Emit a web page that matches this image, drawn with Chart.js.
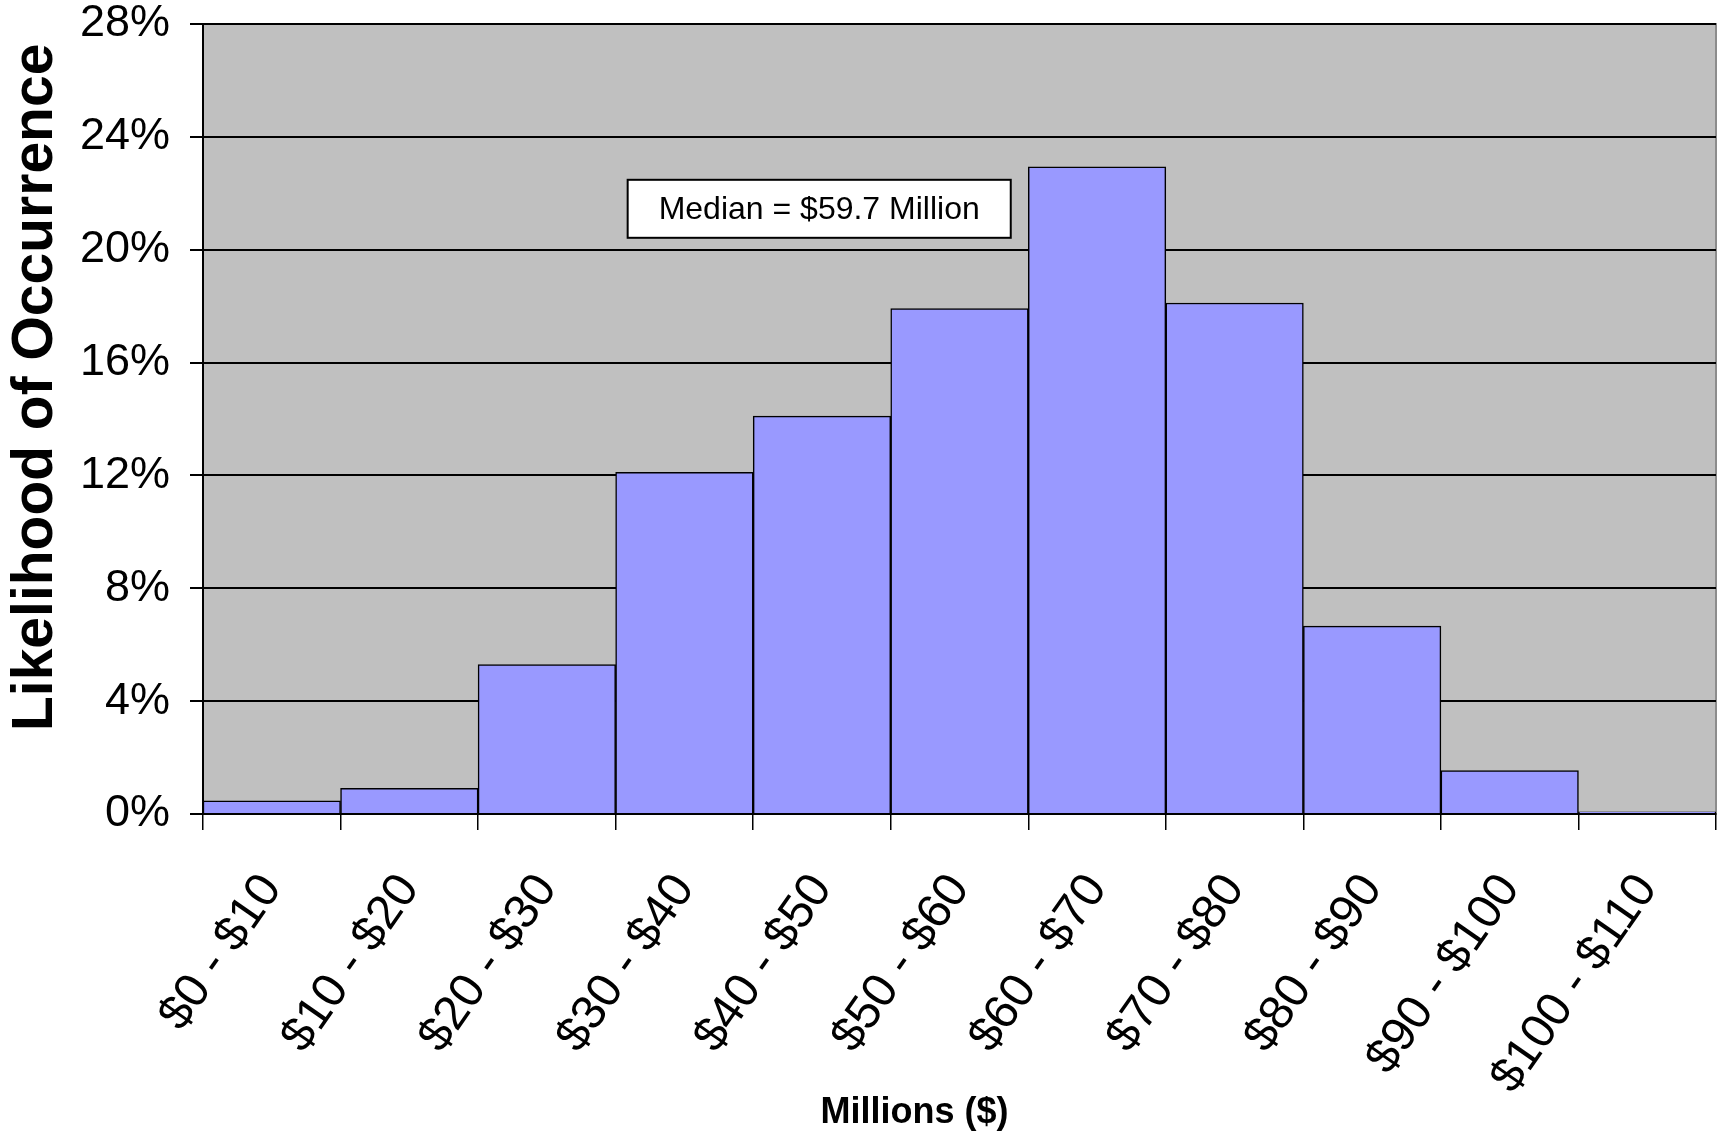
<!DOCTYPE html>
<html>
<head>
<meta charset="utf-8">
<script src="https://cdn.jsdelivr.net/npm/chart.js@4"></script>
<style>
  html, body { margin: 0; padding: 0; background: #fff; }
  #wrap { width: 1723px; height: 1138px; }
</style>
</head>
<body>
<div id="wrap"><canvas id="histChart" width="1723" height="1138"></canvas></div>
<script>
// Rangos en millones y probabilidad (%)
const rangos = ['$0 - $10', '$10 - $20', '$20 - $30', '$30 - $40', '$40 - $50', '$50 - $60',
                '$60 - $70', '$70 - $80', '$80 - $90', '$90 - $100', '$100 - $110'];
const probabilidad = [0.47, 0.91, 5.30, 12.11, 14.10, 17.91, 22.94, 18.11, 6.66, 1.54, 0.08];
const yTicks = [0, 4, 8, 12, 16, 20, 24, 28];

// Nota de la mediana
const medianaTexto = 'Median = $59.7 Million';
const medianaCategoria = 3.98;
const medianaValor = 21.45;

// espacios para correr los títulos de los ejes
const nb = n => '\u00a0'.repeat(n);

// fondo gris del área de trazado
const fondoPlot = {
    id: 'fondoPlot',
    beforeDraw(chart) {
        const { ctx, chartArea: a } = chart;
        ctx.save();
        ctx.fillStyle = '#c0c0c0';
        ctx.fillRect(a.left, a.top, a.right - a.left, a.bottom - a.top);
        ctx.strokeStyle = '#8c8c8c';
        ctx.lineWidth = 2;
        ctx.strokeRect(a.left, a.top, a.right - a.left, a.bottom - a.top);
        ctx.restore();
    }
};

// caja con la mediana
const notaMediana = {
    id: 'notaMediana',
    afterDatasetsDraw(chart) {
        const { ctx, scales } = chart;
        const cx = scales.x.getPixelForValue(medianaCategoria);
        const cy = scales.y.getPixelForValue(medianaValor);
        ctx.save();
        ctx.font = '32px "Liberation Sans", Arial, sans-serif';
        const w = ctx.measureText(medianaTexto).width + 62;
        const h = 58;
        ctx.fillStyle = '#fff';
        ctx.fillRect(cx - w / 2, cy - h / 2, w, h);
        ctx.strokeStyle = '#000';
        ctx.lineWidth = 2;
        ctx.strokeRect(cx - w / 2, cy - h / 2, w, h);
        ctx.fillStyle = '#000';
        ctx.textAlign = 'center';
        ctx.textBaseline = 'middle';
        ctx.fillText(medianaTexto, cx, cy + 1);
        ctx.restore();
    }
};

new Chart(document.getElementById('histChart'), {
    type: 'bar',
    data: {
        labels: rangos,
        datasets: [{
            label: 'Likelihood of Occurrence',
            data: probabilidad,
            backgroundColor: '#9999ff',
            borderColor: '#000',
            borderWidth: 1.5,
            categoryPercentage: 1,
            barPercentage: 1
        }]
    },
    options: {
        responsive: false,
        animation: false,
        layout: { padding: { top: 24, right: 7, left: 0, bottom: 0 } },
        plugins: {
            legend: { display: false },
            tooltip: { enabled: false }
        },
        scales: {
            x: {
                offset: true,
                afterFit(scale) {
                    scale.height = 324;
                    scale.paddingLeft = 0;
                    scale.paddingRight = 0;
                },
                grid: {
                    offset: true,
                    drawOnChartArea: false,
                    color: '#000',
                    lineWidth: 1.5,
                    tickLength: 16
                },
                border: { color: '#000', width: 2 },
                ticks: {
                    color: '#000',
                    autoSkip: false,
                    minRotation: 55,
                    maxRotation: 55,
                    padding: 34,
                    font: { family: '"Liberation Sans", Arial, sans-serif', size: 48 }
                },
                title: {
                    display: true,
                    text: 'Millions ($)' + nb(9),
                    color: '#000',
                    padding: { top: 0, bottom: 3 },
                    font: { family: '"Liberation Sans", Arial, sans-serif', size: 36, weight: 'bold' }
                }
            },
            y: {
                min: 0,
                max: 28,
                afterFit(scale) {
                    scale.width = 203;
                    scale.paddingTop = 0;
                    scale.paddingBottom = 0;
                },
                afterBuildTicks(scale) {
                    scale.ticks = yTicks.map(v => ({ value: v }));
                },
                grid: {
                    color: '#000',
                    lineWidth: 2,
                    tickLength: 13
                },
                border: { color: '#000', width: 2 },
                ticks: {
                    color: '#000',
                    padding: 20,
                    callback: v => v + '%',
                    font: { family: '"Liberation Sans", Arial, sans-serif', size: 45 }
                },
                title: {
                    display: true,
                    text: nb(4) + 'Likelihood of Occurrence',
                    color: '#000',
                    padding: { top: 8, bottom: 0 },
                    font: { family: '"Liberation Sans", Arial, sans-serif', size: 57, weight: 'bold', lineHeight: 1 }
                }
            }
        }
    },
    plugins: [fondoPlot, notaMediana]
});
</script>
</body>
</html>
